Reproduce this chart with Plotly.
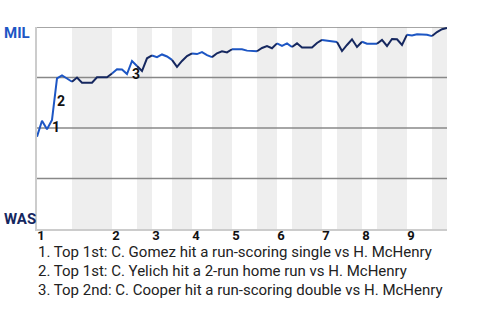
import plotly.graph_objects as go

# MIL win probability (%) after each play
win_prob = [45.7, 53.6, 49.4, 54.0, 74.6, 76.0, 74.5, 72.9, 75.0, 72.4,
            72.4, 72.4, 75.1, 75.1, 75.1, 77.0, 79.1, 79.0, 76.7, 83.2,
            80.7, 78.2, 84.5, 85.9, 85.1, 86.4, 85.4, 83.7, 80.3, 83.2,
            85.6, 86.9, 86.6, 87.6, 86.1, 85.1, 87.0, 88.0, 87.4, 89.0,
            89.0, 89.0, 88.3, 88.1, 88.0, 89.6, 90.6, 89.5, 91.9, 90.7,
            91.9, 90.1, 91.9, 89.8, 89.8, 89.8, 92.1, 93.6, 93.3, 93.1,
            92.6, 88.1, 91.1, 93.9, 90.1, 92.7, 91.7, 91.7, 91.7, 93.6,
            90.6, 94.1, 93.9, 91.1, 96.2, 95.8, 96.4, 96.3, 96.2, 95.5,
            97.5, 98.9, 99.5]
# play index where each half-inning starts (top 1, bot 1, top 2, ...), last = end
half_starts = [0, 7, 15, 20, 23, 27, 31, 35, 39, 44, 48, 51, 57, 60, 65, 68, 74, 79, 82]
inning_labels = ["1", "2", "3", "4", "5", "6", "7", "8", "9"]
event_plays = [2, 3, 18]          # play index where the event segment starts
event_labels = ["1", "2", "3"]
event_yshift = [-2, -2, -6]
notes = ["1. Top 1st: C. Gomez hit a run-scoring single vs H. McHenry",
         "2. Top 1st: C. Yelich hit a 2-run home run vs H. McHenry",
         "3. Top 2nd: C. Cooper hit a run-scoring double vs H. McHenry"]
team_top, team_bottom = "MIL", "WAS"
grid_vals = [25, 50, 75, 100]

MIL_COL = "#1d56c4"
WAS_COL = "#15275f"

fig = go.Figure()
shapes = []
for h in range(len(half_starts) - 1):
    s, e = half_starts[h], half_starts[h + 1]
    if h % 2 == 1:
        shapes.append(dict(type="rect", xref="x", yref="paper", x0=s, x1=e, y0=0, y1=1,
                           fillcolor="#eeeeee", line_width=0, layer="below"))
for g in grid_vals:
    shapes.append(dict(type="line", xref="paper", yref="y", x0=0, x1=1, y0=g, y1=g,
                       line=dict(color="#888888", width=1.5), layer="below"))

for h in range(len(half_starts) - 1):
    s, e = half_starts[h], half_starts[h + 1]
    fig.add_trace(go.Scatter(
        x=list(range(s, e + 1)), y=win_prob[s:e + 1], mode="lines",
        line=dict(color=MIL_COL if h % 2 == 0 else WAS_COL, width=2),
        showlegend=False, hoverinfo="skip"))

annotations = []
for i, lab, ys in zip(event_plays, event_labels, event_yshift):
    annotations.append(dict(x=i + 0.5, y=(win_prob[i] + win_prob[i + 1]) / 2, text=lab,
                            xref="x", yref="y", xanchor="left", yanchor="middle",
                            xshift=0, yshift=ys, showarrow=False,
                            font=dict(family="Roboto", size=14, color="#111111", weight="bold")))
annotations.append(dict(x=0, y=100, xref="paper", yref="y", text=team_top, xanchor="left",
                        yanchor="middle", xshift=-35, yshift=-6, showarrow=False,
                        font=dict(family="Roboto", size=15, color=MIL_COL, weight="bold")))
annotations.append(dict(x=0, y=0, xref="paper", yref="y", text=team_bottom, xanchor="left",
                        yanchor="middle", xshift=-35, yshift=10, showarrow=False,
                        font=dict(family="Roboto", size=15, color=WAS_COL, weight="bold")))
for k, t in enumerate(notes):
    annotations.append(dict(x=0, y=0, xref="paper", yref="paper", text=t, xanchor="left",
                            yanchor="middle", xshift=-1, yshift=-23 - 19 * k, showarrow=False,
                            font=dict(family="Roboto", size=15, color="#222222")))

fig.update_layout(
    width=480, height=320, margin=dict(l=37, r=33, t=27, b=91),
    paper_bgcolor="white", plot_bgcolor="white",
    shapes=shapes, annotations=annotations,
    xaxis=dict(range=[0, half_starts[-1]], showgrid=False, zeroline=False,
               tickvals=half_starts[0:-1:2], ticktext=inning_labels, ticks="",
               ticklabelshift=4, ticklabelstandoff=-7,
               tickfont=dict(family="Roboto", size=13, color="#111111", weight="bold"),
               showline=True, linecolor="#cccccc", linewidth=2, fixedrange=True),
    yaxis=dict(range=[0, 100], showgrid=False, zeroline=False, showticklabels=False,
               ticks="", showline=True, linecolor="#cccccc", linewidth=2, fixedrange=True),
)
fig.write_html("out.html")
